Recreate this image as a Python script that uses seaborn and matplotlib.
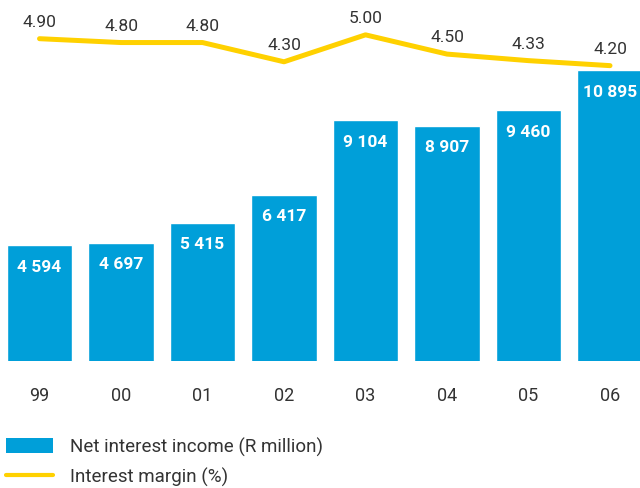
import numpy as np
import pandas as pd
import matplotlib
matplotlib.use("Agg")
import matplotlib.pyplot as plt
import seaborn as sns
from matplotlib.patches import Patch
from matplotlib.lines import Line2D

years = ["99", "00", "01", "02", "03", "04", "05", "06"]
net_interest_income = [4594, 4697, 5415, 6417, 9104, 8907, 9460, 10895]
interest_margin = [4.90, 4.80, 4.80, 4.30, 5.00, 4.50, 4.33, 4.20]
margin_labels = ["4.90", "4.80", "4.80", "4.30", "5.00", "4.50", "4.33", "4.20"]

BAR = "#009FD9"
YEL = "#FFD100"
TXT = "#333333"

sns.set_style("white")
plt.rcParams["font.family"] = ["Roboto", "DejaVu Sans"]

fig = plt.figure(figsize=(6.4, 4.89), dpi=100)
ax = fig.add_axes([0.0, 127 / 489, 1.0, 362 / 489])

df = pd.DataFrame({"year": years, "nii": net_interest_income})
sns.barplot(data=df, x="year", y="nii", color=BAR, saturation=1, width=0.8, ax=ax)

ax.set_xlim(-0.485, 7.368)
ax.set_ylim(432, 13468)
for p, v in zip(ax.patches, net_interest_income):
    ax.annotate(f"{v:,}".replace(",", " "),
                (p.get_x() + p.get_width() / 2, p.get_height()),
                xytext=(0, -15), textcoords="offset points",
                ha="center", va="center", color="white",
                fontsize=12.5, fontweight="bold")

ax.set_xlabel("")
ax.set_ylabel("")
ax.set_yticks([])
ax.tick_params(axis="x", length=0, pad=18, labelsize=13, labelcolor=TXT)
for s in ax.spines.values():
    s.set_visible(False)

ax2 = ax.twinx()
pos = np.arange(len(years))
sns.lineplot(x=pos, y=interest_margin, ax=ax2, color=YEL, linewidth=3.6, sort=False)
ax2.set_ylim(-3.472, 5.931)
ax2.set_xlim(-0.485, 7.368)
ax2.set_yticks([])
ax2.set_ylabel("")
for s in ax2.spines.values():
    s.set_visible(False)
for x, v, lab in zip(pos, interest_margin, margin_labels):
    ax2.annotate(lab, (x, v), xytext=(0, 12.5), textcoords="offset points",
                 ha="center", va="center", color=TXT, fontsize=12.5)

handles = [Patch(facecolor=BAR, edgecolor="none"),
           Line2D([0], [0], color=YEL, linewidth=3)]
fig.legend(handles, ["Net interest income (R million)", "Interest margin (%)"],
           loc="upper left", bbox_to_anchor=(0.0, 1 - 432 / 489),
           frameon=False, fontsize=13.5, handlelength=2.5, handleheight=0.85,
           handletextpad=0.95, labelspacing=0.6, borderaxespad=0, borderpad=0.3,
           labelcolor=TXT)

fig.savefig("out.png", dpi=100)
